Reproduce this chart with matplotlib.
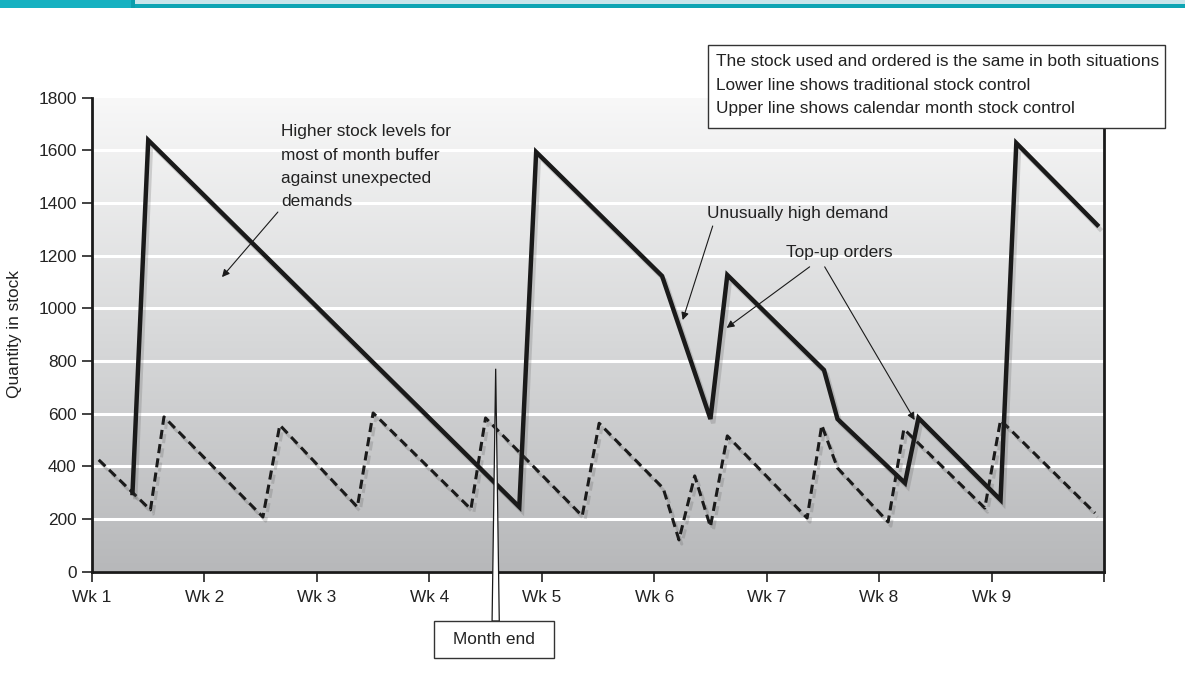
import numpy as np
import matplotlib
matplotlib.use('Agg')
import matplotlib.pyplot as plt
import matplotlib.patheffects as pe
from matplotlib.patches import Rectangle, Polygon

# calendar month stock control (upper, solid)
upper_wk = [1.36, 1.50, 4.80, 4.95, 6.07, 6.50, 6.65, 7.51, 7.63, 8.23, 8.35, 9.08, 9.22, 9.94]
upper_qty = [298, 1638, 245, 1593, 1122, 579, 1126, 765, 579, 336, 583, 272, 1627, 1316]

# traditional stock control (lower, dashed)
lower_wk = [1.06, 1.52, 1.64, 2.52, 2.67, 3.36, 3.50, 4.37, 4.50, 5.36, 5.51, 6.08,
            6.22, 6.36, 6.50, 6.65, 7.36, 7.49, 7.63, 8.08, 8.22, 8.94, 9.08, 9.92]
lower_qty = [424, 234, 587, 207, 556, 245, 602, 237, 583, 211, 563, 316,
             120, 363, 170, 515, 203, 556, 393, 188, 541, 241, 575, 222]

week_ticks = [1, 2, 3, 4, 5, 6, 7, 8, 9, 10]
week_labels = ['Wk 1', 'Wk 2', 'Wk 3', 'Wk 4', 'Wk 5', 'Wk 6', 'Wk 7', 'Wk 8', 'Wk 9', '']
qty_ticks = [0, 200, 400, 600, 800, 1000, 1200, 1400, 1600, 1800]

month_end_wk = 4.59
month_end_top = 770

plt.rcParams['font.family'] = ['Liberation Sans', 'DejaVu Sans']
plt.rcParams['font.size'] = 12.4

fig = plt.figure(figsize=(11.85, 6.83), dpi=100)
ax = fig.add_axes([92 / 1185, 1 - 571.5 / 683, (1104 - 92) / 1185, (571.5 - 97.5) / 683])

# header band
fig.add_artist(Rectangle((0, 1 - 3.5 / 683), 1, 3.5 / 683, transform=fig.transFigure,
                         facecolor='#c8e5eb', edgecolor='none'))
fig.add_artist(Rectangle((0, 1 - 7.5 / 683), 1, 4 / 683, transform=fig.transFigure,
                         facecolor='#0ea5b4', edgecolor='none'))
fig.add_artist(Rectangle((0, 1 - 7.5 / 683), 131 / 1185, 7.5 / 683, transform=fig.transFigure,
                         facecolor='#16b1c1', edgecolor='none'))
fig.add_artist(Rectangle((131 / 1185, 1 - 7.5 / 683), 4 / 1185, 7.5 / 683, transform=fig.transFigure,
                         facecolor='#0a9dac', edgecolor='none'))

# gradient background, dark at the bottom
grad = np.linspace(0, 1, 256).reshape(-1, 1)
cmap = matplotlib.colors.LinearSegmentedColormap.from_list('bg', ['#b7b8ba', '#d8d9da', '#f8f8f8'])
ax.imshow(grad, extent=[1, 10, 0, 1800], origin='lower', aspect='auto', cmap=cmap, zorder=0)

for q in qty_ticks[1:-1]:
    ax.axhline(q, color='white', lw=2.2, zorder=1)

shadow = [pe.SimpleLineShadow(offset=(2, -3), shadow_color='#555555', alpha=0.22), pe.Normal()]
ax.plot(lower_wk, lower_qty, color='#1a1a1a', lw=2.2, linestyle=(0, (3, 1.7)),
        solid_joinstyle='miter', zorder=3, path_effects=shadow)
ax.plot(upper_wk, upper_qty, color='#1a1a1a', lw=3.2, solid_joinstyle='miter',
        zorder=4, path_effects=shadow)

ax.set_xlim(1, 10)
ax.set_ylim(0, 1800)
ax.set_xticks(week_ticks)
ax.set_xticklabels(week_labels)
ax.set_yticks(qty_ticks)
ax.tick_params(direction='out', length=7, width=1.2, color='#222222', labelcolor='#222222')
ax.tick_params(axis='x', pad=6)
ax.tick_params(axis='y', pad=4)
ax.spines['top'].set_visible(False)
for s in ['left', 'bottom', 'right']:
    ax.spines[s].set_linewidth(2)
    ax.spines[s].set_color('#1a1a1a')
ax.set_ylabel('Quantity in stock', color='#222222', labelpad=12)

# month end marker
me_bottom = -188
ax.add_patch(Polygon([(month_end_wk, month_end_top), (month_end_wk - 0.032, me_bottom),
                      (month_end_wk + 0.032, me_bottom)], closed=True, facecolor='white',
                     edgecolor='#1a1a1a', lw=0.9, clip_on=False, zorder=5))
fig.add_artist(Rectangle((434 / 1185, 1 - 658 / 683), 120 / 1185, 37 / 683, transform=fig.transFigure,
                         facecolor='white', edgecolor='#333333', lw=1))
fig.text(494 / 1185, 1 - 640 / 683, 'Month end', ha='center', va='center', color='#222222')

# info box
fig.add_artist(Rectangle((708 / 1185, 1 - 128 / 683), 457 / 1185, 83 / 683, transform=fig.transFigure,
                         facecolor='white', edgecolor='#333333', lw=1, zorder=10))
fig.text(716 / 1185, 1 - 85 / 683,
         'The stock used and ordered is the same in both situations\n'
         'Lower line shows traditional stock control\n'
         'Upper line shows calendar month stock control',
         ha='left', va='center', linespacing=1.72, color='#222222', zorder=11)

arrow = dict(arrowstyle='-|>', lw=0.8, color='#1a1a1a', mutation_scale=11, shrinkA=0, shrinkB=0)
ax.text(2.68, 1698, 'Higher stock levels for\nmost of month buffer\nagainst unexpected\ndemands',
        ha='left', va='top', linespacing=1.68, color='#222222')
ax.annotate('', xy=(2.156, 1118), xytext=(2.653, 1365), arrowprops=arrow)

ax.text(6.467, 1358, 'Unusually high demand', ha='left', va='center', color='#222222')
ax.annotate('', xy=(6.253, 955), xytext=(6.52, 1312), arrowprops=arrow)

ax.text(7.17, 1213, 'Top-up orders', ha='left', va='center', color='#222222')
ax.annotate('', xy=(6.644, 925), xytext=(7.382, 1157), arrowprops=arrow)
ax.annotate('', xy=(8.316, 575), xytext=(7.516, 1157), arrowprops=arrow)

fig.savefig('out.png', dpi=100)
